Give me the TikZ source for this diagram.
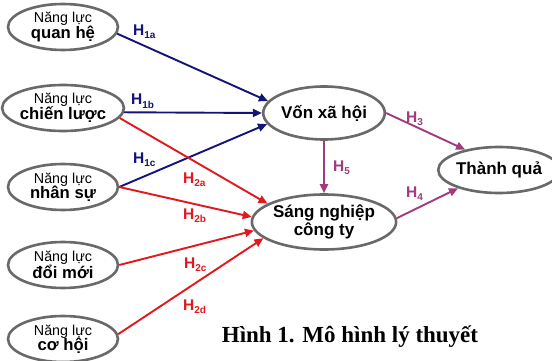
\documentclass[tikz,border=0pt]{standalone}
\usepackage{fontspec}
\setmainfont{Liberation Sans}
\newfontfamily\capfont{Liberation Serif}
\usetikzlibrary{shapes.geometric,arrows.meta}
\definecolor{navyc}{RGB}{20,20,120}
\definecolor{redc}{RGB}{225,25,30}
\definecolor{purc}{RGB}{160,60,125}
\definecolor{ellc}{RGB}{105,105,105}
\newcommand{\twol}[1]{{\fontsize{14.3}{15}\selectfont Năng lực}\\[-1pt]{\fontsize{16.7}{17}\selectfont\bfseries #1}}
\newcommand{\hlab}[1]{{\fontsize{15.5}{15}\selectfont\bfseries H\raisebox{-3pt}{\fontsize{10}{10}\selectfont #1}}}
\begin{document}
\begin{tikzpicture}[x=1pt,y=-1pt,
  ell/.style={ellipse,draw=ellc,line width=2.6pt,fill=white,inner sep=0pt,align=center,minimum width=110pt,minimum height=46pt},
  bigell/.style={ellipse,draw=ellc,line width=2.6pt,fill=white,inner sep=0pt,align=center,minimum width=108pt,minimum height=53pt,font=\fontsize{17}{18}\selectfont\bfseries},
  arr/.style={line width=1.9pt,-{Triangle[length=9pt,width=8pt]}},
  lab/.style={anchor=base west,inner sep=0pt}]
\useasboundingbox[fill=white] (0,0) rectangle (552,361);
\node[ell] (qh) at (63,27) {\twol{quan hệ}};
\node[ell] (cl) at (63,108) {\twol{chiến lược}};
\node[ell] (ns) at (63,187) {\twol{nhân sự}};
\node[ell] (dm) at (63,265) {\twol{đổi mới}};
\node[ell] (ch) at (63,339) {\twol{cơ hội}};
\node[bigell] (vxh) at (324,113) {Vốn xã hội};
\node[bigell,minimum height=55pt] (sn) at (324,222) {Sáng nghiệp\\công ty};
\node[bigell,minimum width=102pt,minimum height=46pt] (tq) at (499,170) {Thành quả};
% blue
\draw[arr,navyc] (qh.353) -- (vxh.168);
\draw[arr,navyc] (cl.356) -- (vxh.west);
\draw[arr,navyc] (ns.east) -- (vxh.191);
% red
\draw[arr,redc] (cl.350) -- (sn.162);
\draw[arr,redc] (ns.east) -- (sn.176);
\draw[arr,redc] (dm.east) -- (sn.187);
\draw[arr,redc] (ch.5) -- (sn.195);
% purple
\draw[arr,purc] (vxh.east) -- (tq.149);
\draw[arr,purc] (sn.3) -- (tq.204);
\draw[arr,purc] (vxh.south) -- (sn.north);
% labels
\node[lab,navyc] (l1a) at (133,36) {\hlab{1a}};
\node[lab,navyc] (l1b) at (131,105) {\hlab{1b}};
\node[lab,navyc] (l1c) at (133,163) {\hlab{1c}};
\node[lab,redc] (l2a) at (183,183) {\hlab{2a}};
\node[lab,redc] (l2b) at (183,219) {\hlab{2b}};
\node[lab,redc] (l2c) at (184,268) {\hlab{2c}};
\node[lab,redc] (l2d) at (183,310) {\hlab{2d}};
\node[lab,purc] (l3) at (406,122) {\hlab{3}};
\node[lab,purc] (l5) at (333,171) {\hlab{5}};
\node[lab,purc] (l4) at (406,197) {\hlab{4}};
\node[inner sep=0pt] (cap) at (350,337) {\capfont\fontsize{23}{23}\selectfont\bfseries Hình 1. Mô hình lý thuyết};
\end{tikzpicture}
\end{document}
